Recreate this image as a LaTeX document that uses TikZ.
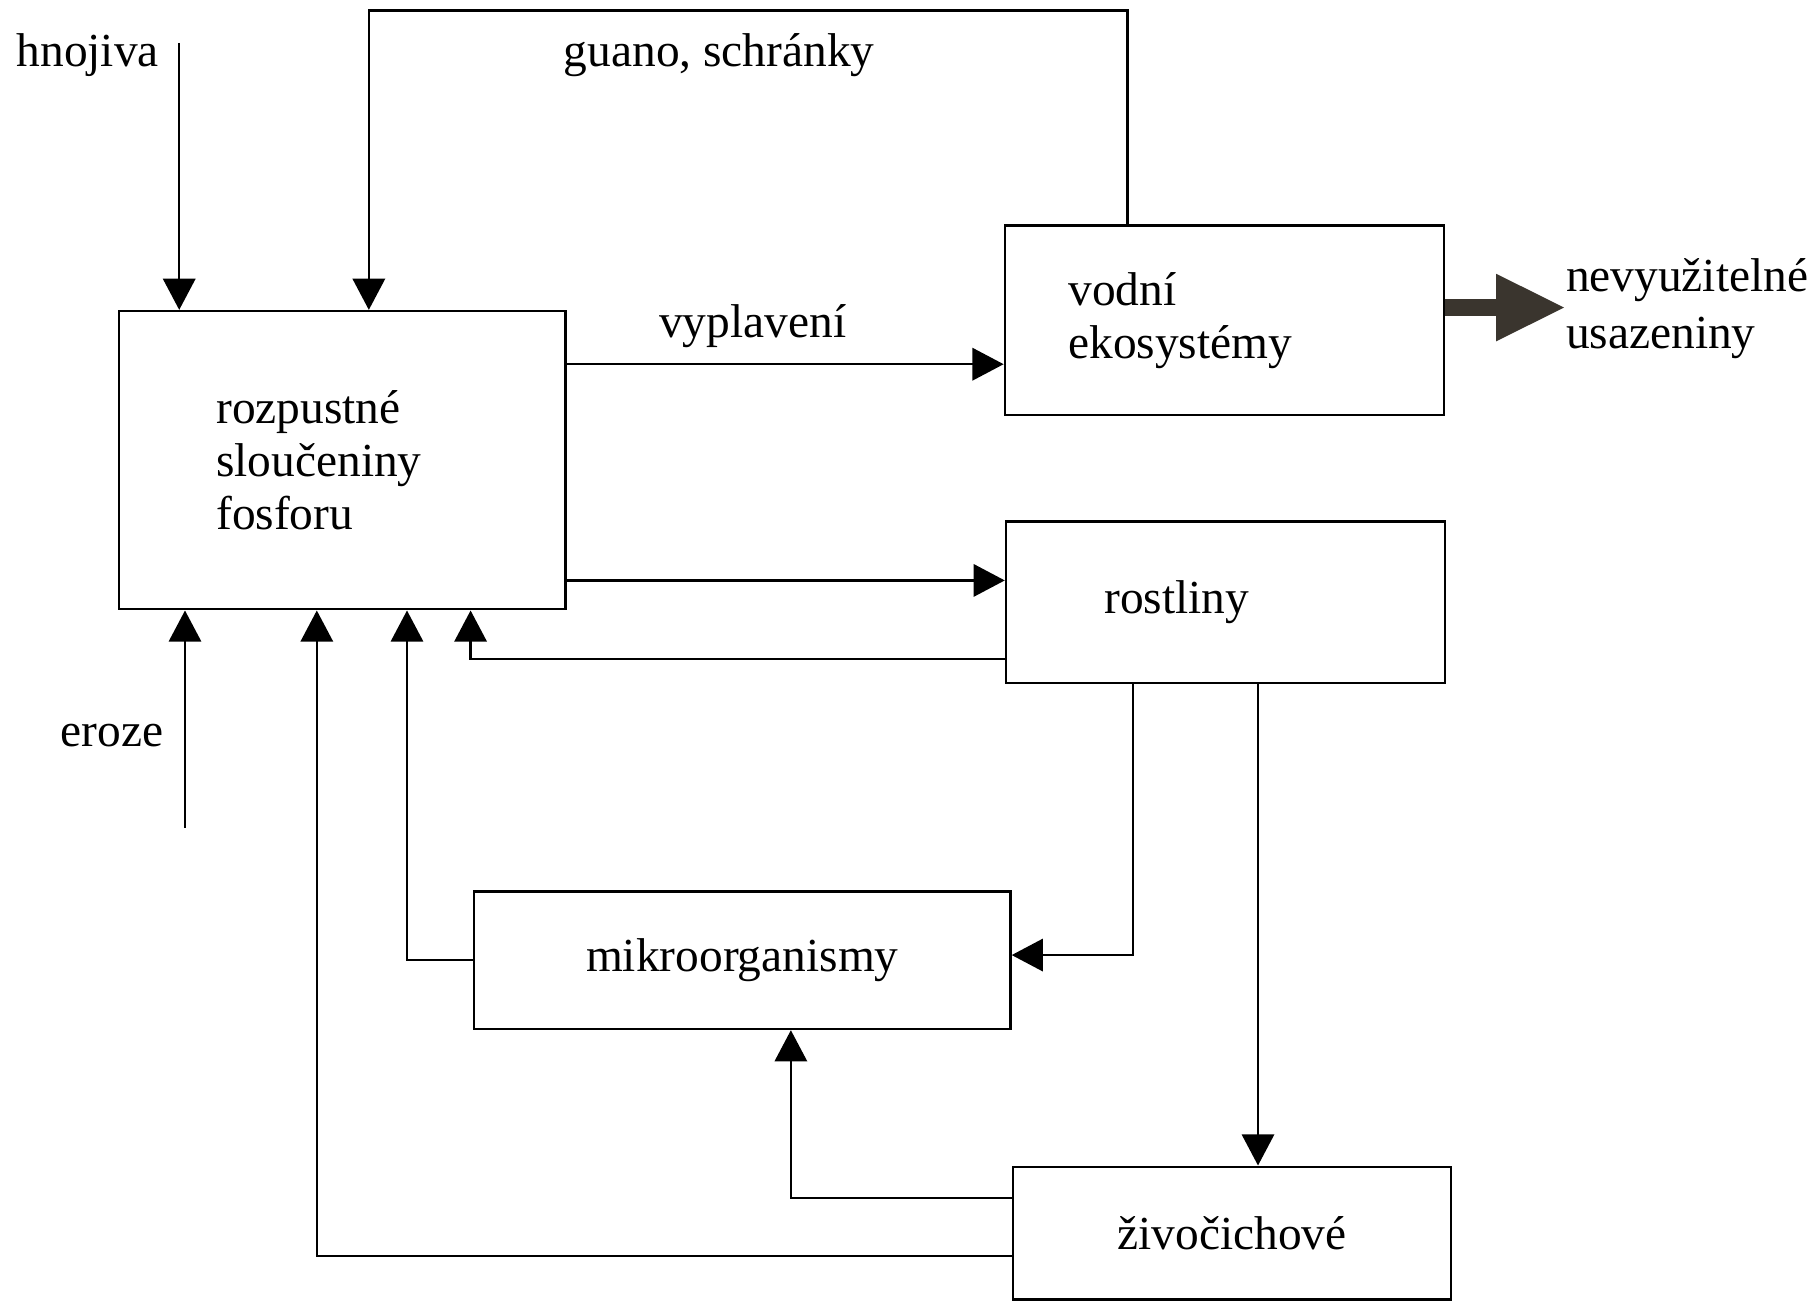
\documentclass[tikz,border=0pt]{standalone}
\usepackage{fontspec}
\setmainfont{Liberation Serif}
\usetikzlibrary{arrows.meta,calc}
\definecolor{tmava}{RGB}{58,53,46}

\begin{document}
\begin{tikzpicture}[x=0.5pt,y=-0.5pt,
    font=\fontsize{20.5}{23}\selectfont,
    blok/.style={draw,line width=1pt,rectangle,inner sep=0pt},
    sipka/.style={line width=1pt,-{Triangle[width=14pt,length=13.5pt]}},
    popis/.style={inner sep=0pt}]
    \useasboundingbox (0,0) rectangle (1568,1127);
    % bloky
    \node[blok,align=left,text width=109pt,inner xsep=42pt,minimum height=129pt] (rozp) at (296,398) {rozpustné\\sloučeniny\\fosforu};
    \node[blok,align=left,text width=135pt,inner xsep=27.5pt,minimum height=82pt] (vodni) at (1059,277) {vodní\\ekosystémy};
    \node[blok,align=left,text width=105pt,inner xsep=42.5pt,minimum height=70pt] (rost) at (1060,521) {rostliny};
    \node[blok,minimum width=232pt,minimum height=59.5pt] (mikro) at (642,830.5) {mikroorganismy};
    \node[blok,minimum width=189.5pt,minimum height=57.5pt] (ziv) at (1065.5,1066.5) {živočichové};
    % popisky
    \node[popis,anchor=west] (hnoj) at (14,48) {hnojiva};
    \node[popis] (guano) at (622,48) {guano, schránky};
    \node[popis] (vypl) at (651,282) {vyplavení};
    \node[popis] (eroze) at (97,636) {eroze};
    \node[popis,anchor=west,align=left,font=\fontsize{20.5}{25}\selectfont] (usaz) at (1354,267) {nevyužitelné\\usazeniny};
    % vstupy
    \coordinate (hn) at (155,37);
    \draw[sipka] (hn) -- (hn |- rozp.north);
    \coordinate (er) at (160,716);
    \draw[sipka] (er) -- (er |- rozp.south);
    \path ($(vodni.north west)+(107,0)$) coordinate (v1) ($(rozp.north west)+(217,0)$) coordinate (g1);
    \draw[sipka] (v1) -- ++(0,-185) -| (g1);
    % toky
    \path ($(rozp.north east)+(0,47)$) coordinate (vy);
    \draw[sipka] (vy) -- (vy -| vodni.west);
    \path ($(rost.west)+(0,-19)$) coordinate (r0);
    \draw[sipka] (rozp.east |- r0) -- (r0);
    \foreach \n/\dy/\dx in {rost/49/305,mikro/0/250,ziv/19.5/172}{
            \draw[sipka] ($(\n.west)+(0,\dy)$) -| ($(rozp.south west)+(\dx,0)$);
        }
    \draw[sipka] ($(ziv.west)+(0,-30.5)$) -| ($(mikro.south west)+(275,0)$);
    \draw[sipka] ($(rost.south west)+(111,0)$) |- ($(mikro.east)+(0,-4.5)$);
    \path ($(rost.south west)+(219,0)$) coordinate (r2);
    \draw[sipka] (r2) -- (r2 |- ziv.north);
    % usazeniny
    \path ($(vodni.east)+(0,-11)$) coordinate (v2);
    \draw[tmava,line width=7pt,-{Triangle[width=27pt,length=30pt]}] (v2) -- (v2 -| usaz.west);
\end{tikzpicture}
\end{document}
